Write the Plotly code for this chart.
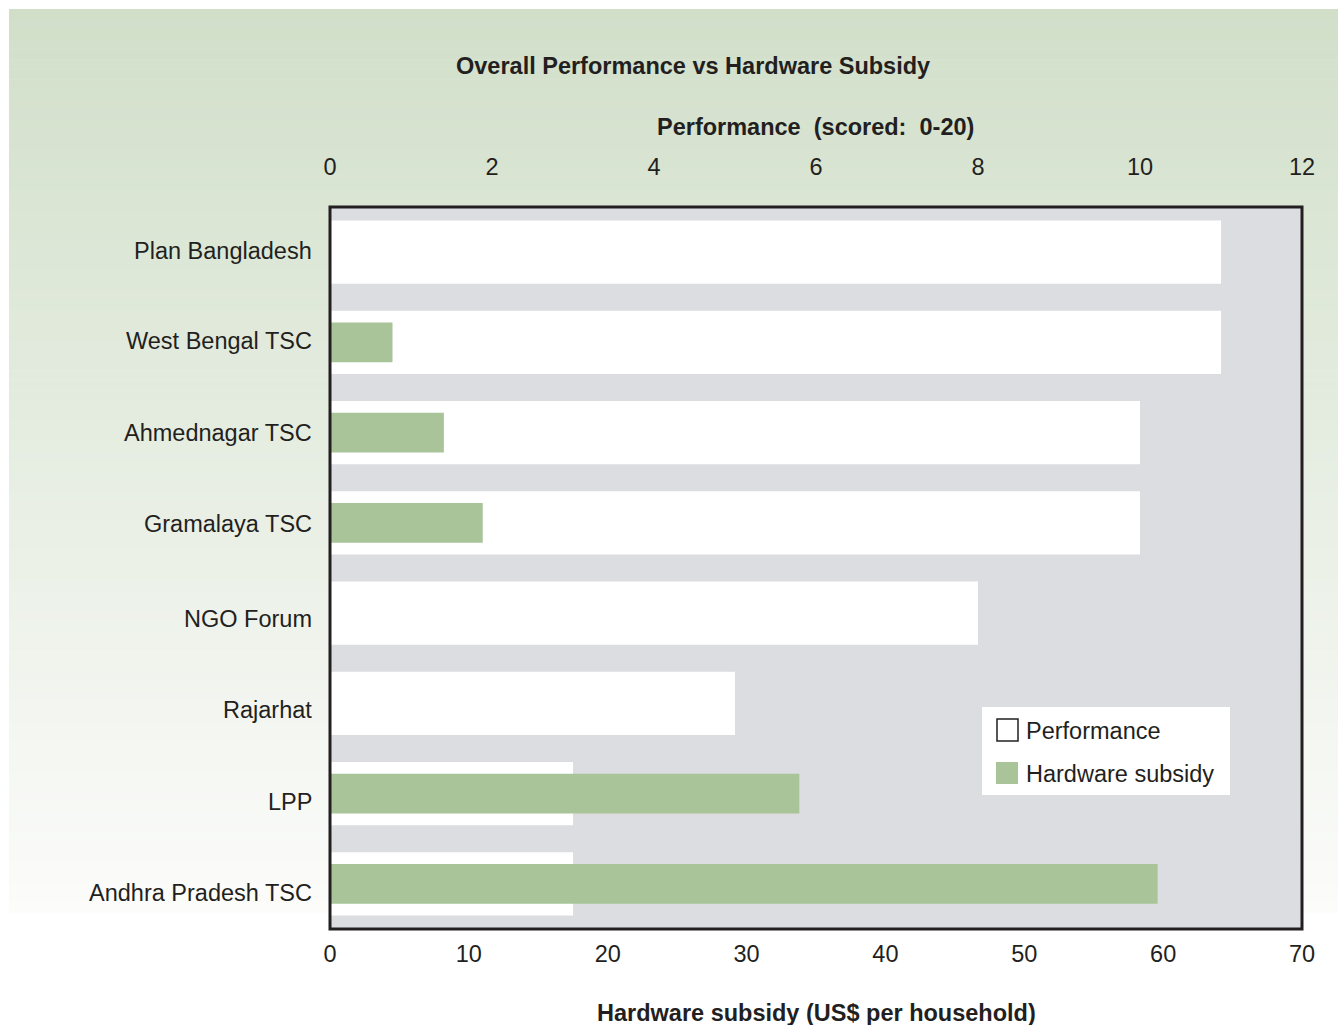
import plotly.graph_objects as go

categories = ["Plan Bangladesh", "West Bengal TSC", "Ahmednagar TSC", "Gramalaya TSC",
              "NGO Forum", "Rajarhat", "LPP", "Andhra Pradesh TSC"]
performance = [11, 11, 10, 10, 8, 5, 3, 3]
subsidy = [0, 4.5, 8.2, 11.0, 0, 0, 33.8, 59.6]
perf_ticks = [0, 2, 4, 6, 8, 10, 12]
subsidy_ticks = [0, 10, 20, 30, 40, 50, 60, 70]
label_shift = [1, 1, 0, -1, -6, -7, -8, -9]  # small vertical nudges of category labels (px)

W, H = 1338, 1025
L, T = 330, 207
R = W - 1302
B = H - 929
PW, PH = W - L - R, H - T - B

def px(x):
    return (x - L) / PW

def py(y):
    return (H - B - y) / PH

FONT = "Liberation Sans"
TXT = "#231f20"
FS = 23.5

fig = go.Figure()
fig.add_trace(go.Bar(y=categories, x=performance, orientation="h", name="Performance",
                     marker=dict(color="white", line=dict(width=0)), width=0.7,
                     xaxis="x", yaxis="y", showlegend=False))
fig.add_trace(go.Bar(y=categories, x=subsidy, orientation="h", name="Hardware subsidy",
                     marker=dict(color="#a8c498", line=dict(width=0)), width=0.44,
                     xaxis="x2", yaxis="y", showlegend=False))

shapes = []
top, bot = 9, 912
n = 90
c0 = (209, 223, 201)
c1 = (252, 252, 251)
for i in range(n):
    y0 = top + (bot - top) * i / n
    y1 = top + (bot - top) * (i + 1) / n
    t = (i + 0.5) / n
    col = tuple(round(c0[k] + (c1[k] - c0[k]) * t) for k in range(3))
    shapes.append(dict(type="rect", xref="paper", yref="paper", layer="below",
                       x0=px(9), x1=px(1345), y0=py(y1 + 0.6), y1=py(y0),
                       line=dict(width=0), fillcolor="rgb(%d,%d,%d)" % col))
shapes.append(dict(type="rect", xref="paper", yref="paper", layer="below",
                   x0=0, x1=1, y0=0, y1=1, line=dict(width=0), fillcolor="#dcdde0"))
shapes.append(dict(type="rect", xref="paper", yref="paper", layer="above",
                   x0=0, x1=1, y0=0, y1=1, line=dict(color="#231f20", width=3)))
shapes.append(dict(type="rect", xref="paper", yref="paper", layer="above",
                   x0=px(982), x1=px(1230), y0=py(795), y1=py(707),
                   line=dict(width=0), fillcolor="white"))
shapes.append(dict(type="rect", xref="paper", yref="paper", layer="above",
                   x0=px(997), x1=px(1018), y0=py(741), y1=py(719),
                   line=dict(width=1.5, color="#231f20"), fillcolor="white"))
shapes.append(dict(type="rect", xref="paper", yref="paper", layer="above",
                   x0=px(996), x1=px(1018), y0=py(784), y1=py(762),
                   line=dict(width=0), fillcolor="#a8c498"))

def ann(text, x, y, xanchor="center", bold=False):
    return dict(text=("<b>%s</b>" % text) if bold else text, x=px(x), y=py(y),
                xref="paper", yref="paper", showarrow=False, xanchor=xanchor,
                yanchor="middle", font=dict(size=FS, color=TXT, family=FONT))

annotations = [
    ann("Overall Performance vs Hardware Subsidy", 693, 66, bold=True),
    ann("Performance  (scored:  0-20)", 815, 127, bold=True),
    ann("Hardware subsidy (US$ per household)", 816, 1013, bold=True),
    ann("Performance", 1024, 731, xanchor="left"),
    ann("Hardware subsidy", 1024, 774, xanchor="left"),
]
for cat, sh in zip(categories, label_shift):
    annotations.append(dict(text=cat, x=0, xref="paper", y=cat, yref="y",
                            xanchor="right", yanchor="middle", xshift=-16, yshift=sh,
                            showarrow=False, font=dict(size=FS, color=TXT, family=FONT)))

fig.update_layout(
    width=W, height=H,
    margin=dict(l=L, r=R, t=T, b=B, pad=0),
    paper_bgcolor="white",
    plot_bgcolor="rgba(0,0,0,0)",
    barmode="overlay",
    showlegend=False,
    font=dict(family=FONT, size=FS, color=TXT),
    xaxis=dict(side="top", range=[0, 12], tickvals=perf_ticks, showgrid=False, zeroline=False,
               ticks="outside", ticklen=0, ticklabelstandoff=22, fixedrange=True,
               tickfont=dict(size=FS, color=TXT)),
    xaxis2=dict(side="bottom", overlaying="x", range=[0, 70], tickvals=subsidy_ticks,
                showgrid=False, zeroline=False, ticks="outside", ticklen=0,
                ticklabelstandoff=4, tickfont=dict(size=FS, color=TXT)),
    yaxis=dict(categoryorder="array", categoryarray=categories, autorange="reversed",
               showgrid=False, zeroline=False, showticklabels=False),
    shapes=shapes,
    annotations=annotations,
)

fig.write_html("out.html", config={"displayModeBar": False},
               post_script="document.body.style.margin='0';document.body.style.overflow='hidden';")
